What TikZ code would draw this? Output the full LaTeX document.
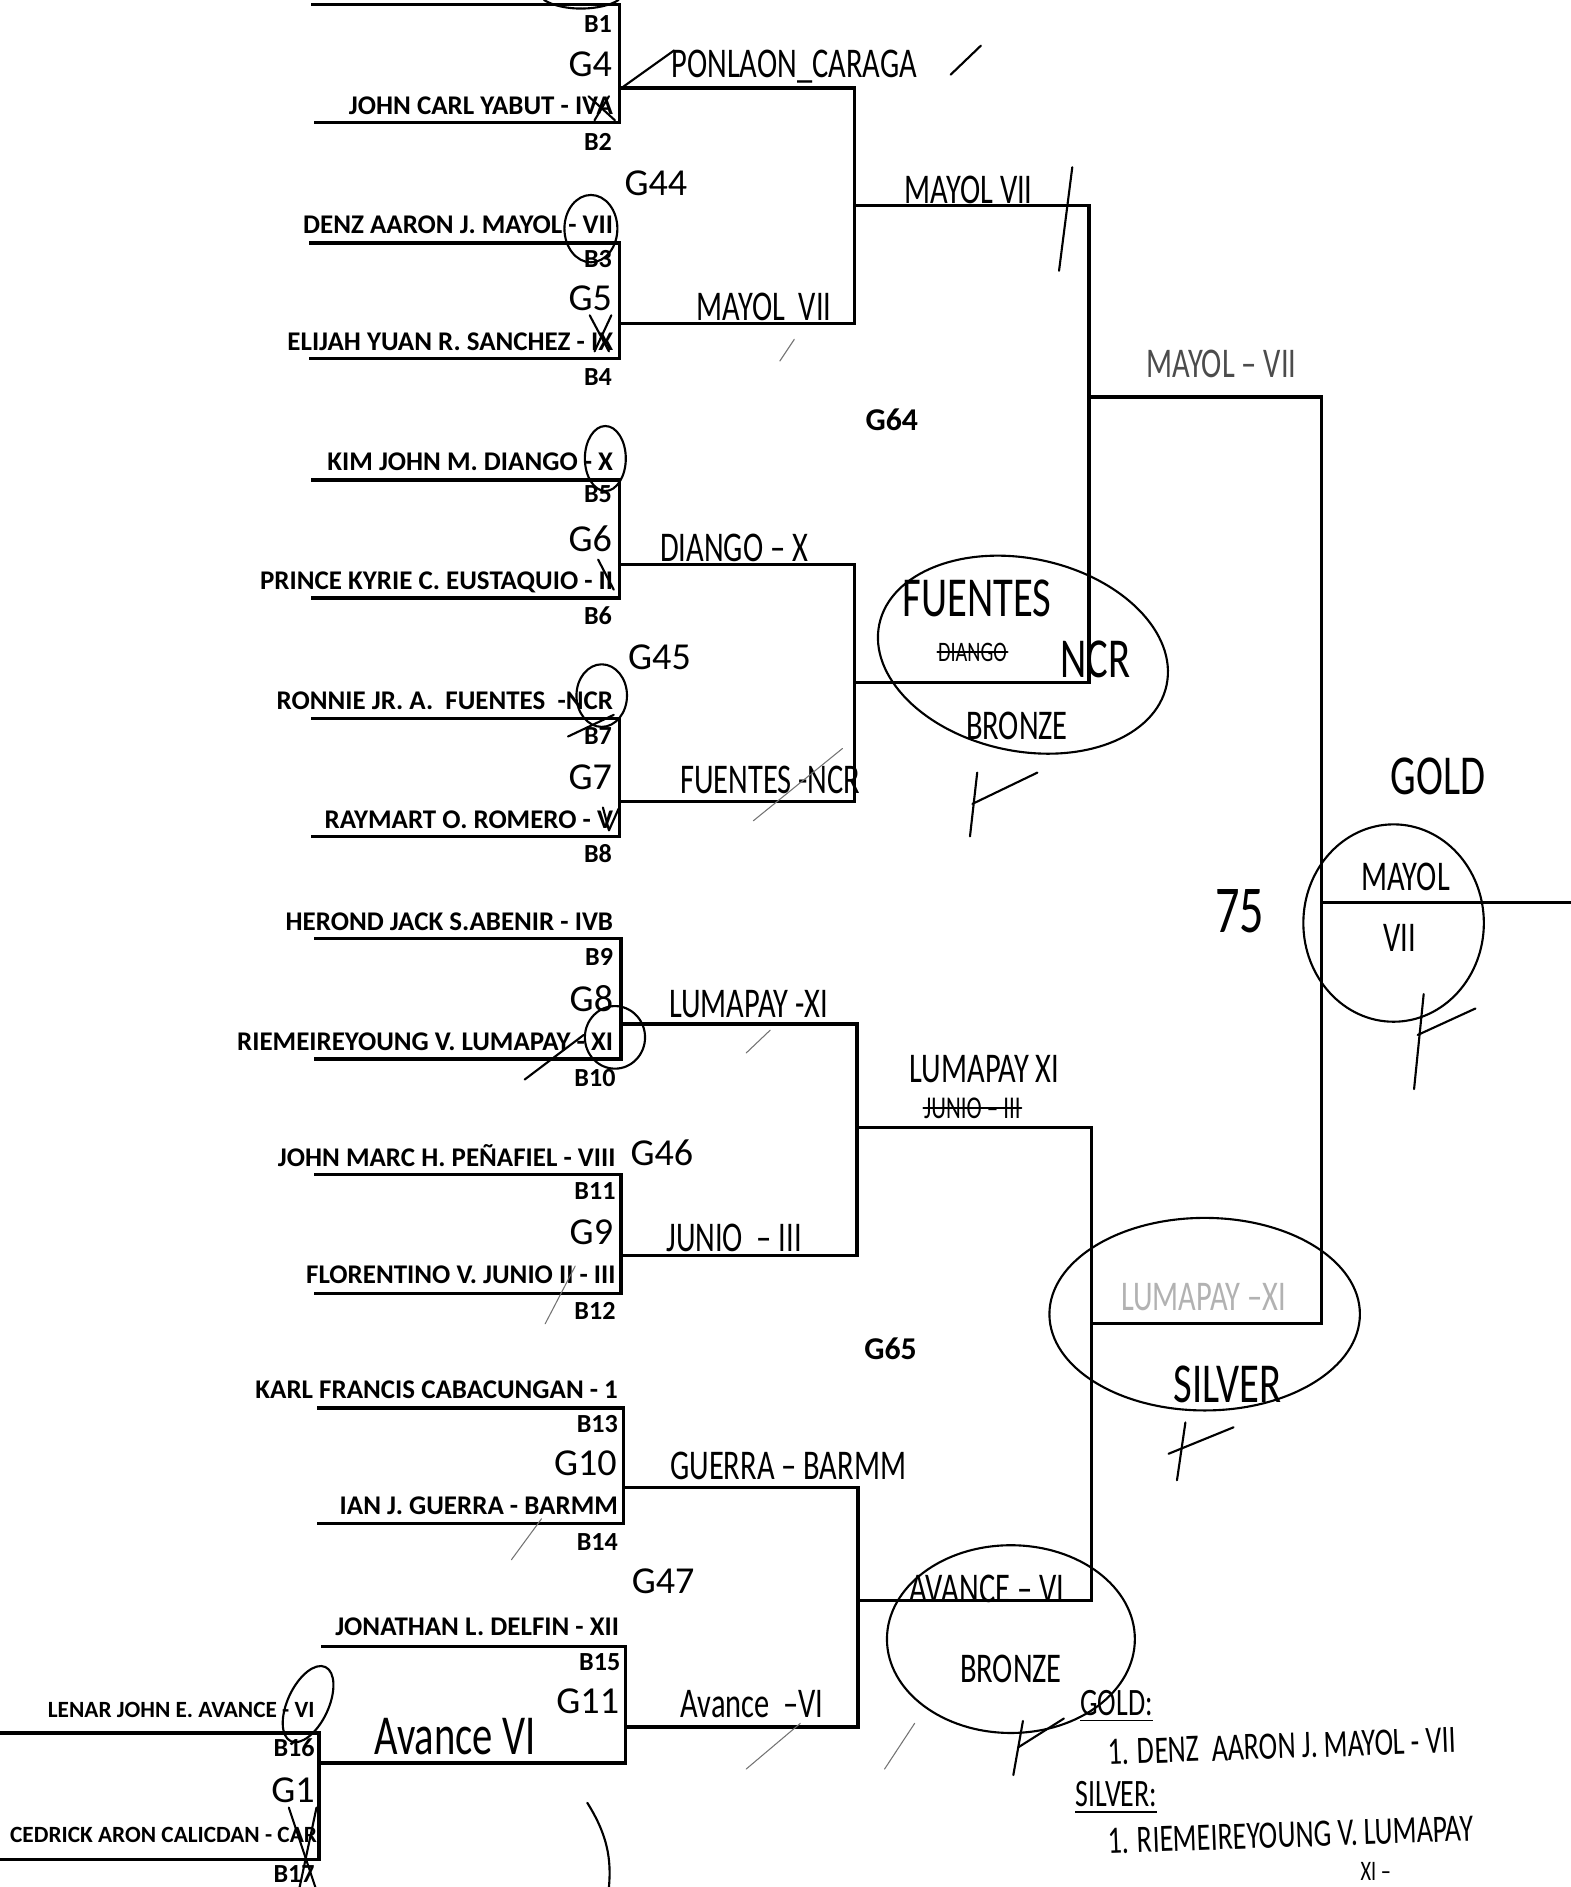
\documentclass[tikz,border=0pt]{standalone}
\usepackage{fontspec}
\setmainfont{Carlito}
\newfontfamily\handfont[FakeStretch=0.72]{Carlito}
\usetikzlibrary{positioning}

\begin{document}
\begin{tikzpicture}[x=0.012cm,y=-0.012cm,
  bracket/.style={line width=0.95pt,line cap=rect},
  player/.style={anchor=east,inner sep=0pt,font=\bfseries\fontsize{7.65}{8}\selectfont},
  slot/.style={anchor=east,inner sep=0pt,font=\bfseries\fontsize{7.4}{8}\selectfont},
  game/.style={anchor=east,inner sep=0pt,font=\fontsize{10.8}{11}\selectfont},
  final/.style={inner sep=0pt,font=\bfseries\fontsize{9}{10}\selectfont},
  hand/.style={inner sep=0pt,font=\handfont\fontsize{12}{12}\selectfont},
  bighand/.style={inner sep=0pt,font=\handfont\fontsize{16}{16}\selectfont},
  note/.style={inner sep=0pt,anchor=west,font=\handfont\fontsize{11}{11}\selectfont},
  pen/.style={line width=0.6pt,line cap=round,line join=round},
  pencil/.style={line width=0.3pt,black!55,line cap=round}]

\useasboundingbox (0,0) rectangle (1305,1568);

% game junctions
\coordinate (g4) at (515,73);
\coordinate (g5) at (515,269);
\coordinate (g6) at (515,469);
\coordinate (g7) at (515,666);
\coordinate (g8) at (516,851);
\coordinate (g9) at (516,1043);
\coordinate (g10) at (518,1236);
\coordinate (g11) at (520,1435);
\coordinate (g1) at (265,1465);
\coordinate (g44) at (710,171);
\coordinate (g45) at (710,567);
\coordinate (g46) at (712,937);
\coordinate (g47) at (713,1330);
\coordinate (g64) at (905,330);
\coordinate (g65) at (907,1100);
\coordinate (gf) at (1098,750);
\coordinate (champ) at (1305,750);

% first round
\draw[bracket] (260,4) -| (g4) |- (262,102);
\draw[bracket] (258,202) -| (g5) |- (258,298);
\draw[bracket] (260,399) -| (g6) |- (260,497);
\draw[bracket] (260,597) -| (g7) |- (260,695);
\draw[bracket] (262,780) -| (g8) |- (262,880);
\draw[bracket] (262,976) -| (g9) |- (262,1075);
\draw[bracket] (265,1170) -| (g10) |- (265,1266);
\draw[bracket] (268,1368) -| (g11);
\draw[bracket] (0,1440) -| (g1) |- (0,1545);
\draw[bracket] (g1) -| (g11);

% later rounds
\draw[bracket] (g4) -| (g44);
\draw[bracket] (g5) -| (g44);
\draw[bracket] (g6) -| (g45);
\draw[bracket] (g7) -| (g45);
\draw[bracket] (g8) -| (g46);
\draw[bracket] (g9) -| (g46);
\draw[bracket] (g10) -| (g47);
\draw[bracket] (g11) -| (g47);
\draw[bracket] (g44) -| (g64);
\draw[bracket] (g45) -| (g64);
\draw[bracket] (g46) -| (g65);
\draw[bracket] (g47) -| (g65);
\draw[bracket] (g64) -| (gf);
\draw[bracket] (g65) -| (gf);
\draw[bracket] (gf) -- (champ);

% players
\node[player] (p2) at (510,88) {JOHN CARL YABUT - IVA};
\node[player] (p3) at (510,187) {DENZ AARON J. MAYOL - VII};
\node[player] (p4) at (510,284) {ELIJAH YUAN R. SANCHEZ - IX};
\node[player] (p5) at (510,384) {KIM JOHN M. DIANGO - X};
\node[player] (p6) at (510,484) {PRINCE KYRIE C. EUSTAQUIO - II};
\node[player] (p7) at (510,582) {RONNIE JR. A.\ \ FUENTES\ \ -NCR};
\node[player] (p8) at (510,681) {RAYMART O. ROMERO - V};
\node[player] (p9) at (510,766) {HEROND JACK S.ABENIR - IVB};
\node[player] (p10) at (510,866) {RIEMEIREYOUNG V. LUMAPAY - XI};
\node[player] (p11) at (512,960) {JOHN MARC H. PEÑAFIEL - VIII};
\node[player] (p12) at (512,1059) {FLORENTINO V. JUNIO II - III};
\node[player] (p13) at (514,1155) {KARL FRANCIS CABACUNGAN - 1};
\node[player] (p14) at (514,1251) {IAN J. GUERRA - BARMM};
\node[player] (p15) at (515,1352) {JONATHAN L. DELFIN - XII};
\node[player,font=\bfseries\fontsize{6.6}{7}\selectfont] (p16) at (262,1421) {LENAR JOHN E. AVANCE - VI};
\node[player,font=\bfseries\fontsize{6.6}{7}\selectfont] (p17) at (264,1525) {CEDRICK ARON CALICDAN - CAR};

% slots
\node[slot] (b1) at (509,20) {B1};
\node[slot] (b2) at (509,118) {B2};
\node[slot] (b3) at (509,215) {B3};
\node[slot] (b4) at (509,313) {B4};
\node[slot] (b5) at (509,411) {B5};
\node[slot] (b6) at (509,512) {B6};
\node[slot] (b7) at (509,612) {B7};
\node[slot] (b8) at (509,709) {B8};
\node[slot] (b9) at (510,795) {B9};
\node[slot] (b10) at (512,896) {B10};
\node[slot] (b11) at (512,990) {B11};
\node[slot] (b12) at (512,1089) {B12};
\node[slot] (b13) at (514,1183) {B13};
\node[slot] (b14) at (514,1281) {B14};
\node[slot] (b15) at (516,1381) {B15};
\node[slot] (b16) at (262,1452) {B16};
\node[slot] (b17) at (262,1557) {B17};

% games
\node[game] (l4) at (509,53) {G4};
\node[game] (l5) at (509,248) {G5};
\node[game] (l6) at (509,448) {G6};
\node[game] (l7) at (509,646) {G7};
\node[game] (l8) at (510,830) {G8};
\node[game] (l9) at (510,1024) {G9};
\node[game] (l10) at (513,1216) {G10};
\node[game] (l11) at (515,1414) {G11};
\node[game] (l1) at (262,1488) {G1};
\node[game,anchor=center] (l44) at (545,152) {G44};
\node[game,anchor=center] (l45) at (548,546) {G45};
\node[game,anchor=center] (l46) at (550,958) {G46};
\node[game,anchor=center] (l47) at (551,1314) {G47};
\node[final] (l64) at (741,349) {G64};
\node[final] (l65) at (740,1121) {G65};

% handwritten results
\node[hand] (w4) at (660,55) {PONLAON\_CARAGA};
\node[hand] (w5) at (635,255) {MAYOL\ \ VII};
\node[hand] (w6) at (610,455) {DIANGO – X};
\node[hand] (w7) at (640,648) {FUENTES -NCR};
\node[hand] (w8) at (622,834) {LUMAPAY -XI};
\node[hand] (w9) at (610,1029) {JUNIO\ \ – III};
\node[hand] (w10) at (655,1218) {GUERRA – BARMM};
\node[hand] (w11) at (625,1416) {Avance\ \ –VI};
\node[bighand] (w1) at (378,1443) {Avance\ VI};
\node[hand] (w44) at (805,158) {MAYOL VII};
\node[hand,text=black!70] (w64) at (1015,302) {MAYOL – VII};
\node[hand] (w46) at (818,888) {LUMAPAY\ XI};
\node[hand,font=\handfont\fontsize{9}{9}\selectfont] (w46x) at (808,921) {JUNIO – III};
\node[hand] (w47) at (820,1320) {AVANCE – VI};
\node[hand,text=black!30] (w65) at (1000,1078) {LUMAPAY –XI};

% medals
\node[bighand] (m1) at (812,497) {FUENTES};
\node[hand,font=\handfont\fontsize{8}{8}\selectfont] (m1x) at (808,542) {DIANGO};
\node[bighand] (m1r) at (910,548) {NCR};
\node[hand] (m1b) at (845,603) {BRONZE};
\node[bighand] (m2) at (1020,1150) {SILVER};
\node[bighand] (m3) at (1195,645) {GOLD};
\node[hand] (m3n) at (1168,729) {MAYOL};
\node[hand] (m3r) at (1163,779) {VII};
\node[bighand,font=\handfont\fontsize{19}{19}\selectfont] (score) at (1030,757) {75};
\node[hand] (m4b) at (840,1387) {BRONZE};
\draw[pen,rotate around={-12:(850,544)}] (850,544) ellipse [x radius=122,y radius=80];
\draw[pen] (1001,1092) ellipse [x radius=129,y radius=80];
\draw[pen] (1158,767) ellipse [x radius=75,y radius=82];
\draw[pen] (840,1362) ellipse [x radius=103,y radius=78];

% strike-outs
\draw[pen] (w46x.west) -- (w46x.east);
\draw[pen] (m1x.west) -- (m1x.east);

% seed circles
\draw[pen] (491,190) ellipse [x radius=22,y radius=28];
\draw[pen] (503,381) ellipse [x radius=17,y radius=27];
\draw[pen] (500,578) ellipse [x radius=21,y radius=26];
\draw[pen] (511,862) ellipse [x radius=25,y radius=26];
\draw[pen,rotate around={-25:(256,1416)}] (256,1416) ellipse [x radius=17,y radius=34];
\draw[pen] (452,0) .. controls (468,10) and (500,9) .. (514,0);

% crosses and ticks
\draw[pen] (489,80) -- (511,100);
\draw[pen] (506,80) -- (494,100);
\draw[pen] (490,262) -- (506,292);
\draw[pen] (508,262) -- (494,292);
\draw[pen] (497,465) -- (510,490);
\draw[pen] (472,612) -- (510,594);
\draw[pen] (501,671) -- (506,690) -- (514,672);
\draw[pen] (436,897) -- (485,860);
\draw[pen] (240,1502) -- (262,1568);
\draw[pen] (263,1502) -- (249,1568);
\draw[pen] (518,72) -- (560,42);
\draw[pen] (790,62) -- (815,38);
\draw[pen] (891,139) -- (880,225);
\draw[pen] (812,642) -- (806,695);
\draw[pen] (808,668) -- (862,642);
\draw[pen] (1183,826) -- (1175,905);
\draw[pen] (1178,860) -- (1226,838);
\draw[pen] (985,1182) -- (978,1230);
\draw[pen] (971,1208) -- (1025,1186);
\draw[pen] (850,1430) -- (842,1475);
\draw[pen] (846,1452) -- (884,1428);
\draw[pen] (488,1498) .. controls (505,1525) and (508,1545) .. (506,1568);

% pencil slashes
\draw[pencil] (648,300) -- (660,282);
\draw[pencil] (626,682) -- (700,622);
\draw[pencil] (620,875) -- (640,856);
\draw[pencil] (453,1100) -- (478,1052);
\draw[pencil] (425,1296) -- (450,1262);
\draw[pencil] (620,1470) -- (665,1432);
\draw[pencil] (735,1470) -- (760,1432);

% summary
\node[note] (s1) at (897,1418) {\underline{GOLD:}};
\node[note,rotate=2] (s2) at (920,1456) {1. DENZ\ \ AARON J. MAYOL - VII};
\node[note] (s3) at (893,1494) {\underline{SILVER:}};
\node[note,rotate=2] (s4) at (920,1530) {1. RIEMEIREYOUNG V. LUMAPAY};
\node[note,font=\handfont\fontsize{8}{8}\selectfont] (s5) at (1130,1555) {XI –};
\end{tikzpicture}
\end{document}
